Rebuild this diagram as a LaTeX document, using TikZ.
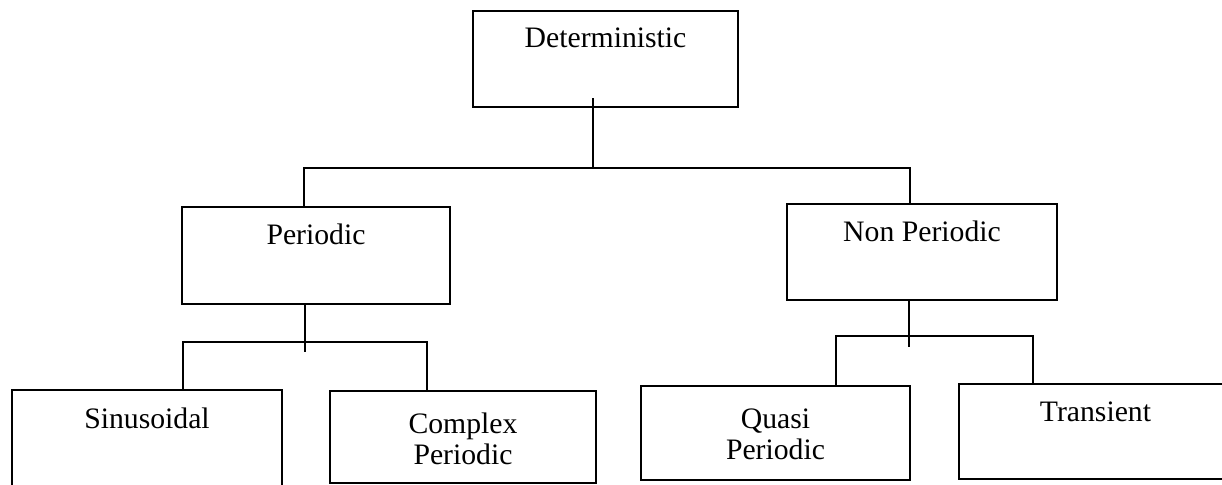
\documentclass[tikz,border=0pt]{standalone}
\usepackage{fontspec}
\setmainfont{Liberation Serif}
\usetikzlibrary{positioning,calc}

\begin{document}
\begin{tikzpicture}[x=1pt, y=-1pt,
    box/.style={draw, line width=2.4pt, inner sep=0pt},
    txt/.style={inner sep=0pt, align=center, font=\fontsize{29.7}{31}\selectfont},
    link/.style={line width=1.8pt}]
  \useasboundingbox (0,0) rectangle (1222,484);

  % top level
  \node[box, minimum width=265pt, minimum height=96pt] (det) at (605.5,59) {};
  \node[txt, below=18pt of det.north] (det-t) {Deterministic};

  % second level
  \node[box, minimum width=268pt, minimum height=97pt] (per) at (316,255.5) {};
  \node[txt, below=18pt of per.north] (per-t) {Periodic};
  \node[box, minimum width=270pt, minimum height=96pt] (nonper) at (922,252) {};
  \node[txt, below=18pt of nonper.north] (nonper-t) {Non Periodic};

  % third level
  \node[box, minimum width=270pt, minimum height=110pt] (sin) at (147,445) {};
  \node[txt, below=19pt of sin.north] (sin-t) {Sinusoidal};
  \node[box, minimum width=266pt, minimum height=92pt] (cpx) at (463,437) {};
  \node[txt, below=23pt of cpx.north] (cpx-t) {Complex\\Periodic};
  \node[box, minimum width=269pt, minimum height=94pt] (quasi) at (775.5,433) {};
  \node[txt, below=24pt of quasi.north] (quasi-t) {Quasi\\Periodic};
  \node[box, minimum width=273pt, minimum height=95pt] (trans) at (1095.5,431.5) {};
  \node[txt, below=19pt of trans.north] (trans-t) {Transient};

  % junctions
  \coordinate (j0) at (593,168);
  \coordinate (b0l) at (304,168);
  \coordinate (b0r) at (910,168);
  \coordinate (j1) at (305,342);
  \coordinate (b1l) at (183,342);
  \coordinate (b1r) at (427,342);
  \coordinate (j2) at (909,336);
  \coordinate (b2l) at (836,336);
  \coordinate (b2r) at (1033,336);

  % connectors
  \draw[link] ($(j0 |- det.south)+(0,-10)$) -- (j0);
  \draw[link] (b0l |- per.north) -- (b0l) -- (b0r) -- (b0r |- nonper.north);
  \draw[link] (j1 |- per.south) -- ($(j1)+(0,10)$);
  \draw[link] (b1l |- sin.north) -- (b1l) -- (b1r) -- (b1r |- cpx.north);
  \draw[link] (j2 |- nonper.south) -- ($(j2)+(0,11)$);
  \draw[link] (b2l |- quasi.north) -- (b2l) -- (b2r) -- (b2r |- trans.north);
\end{tikzpicture}
\end{document}
